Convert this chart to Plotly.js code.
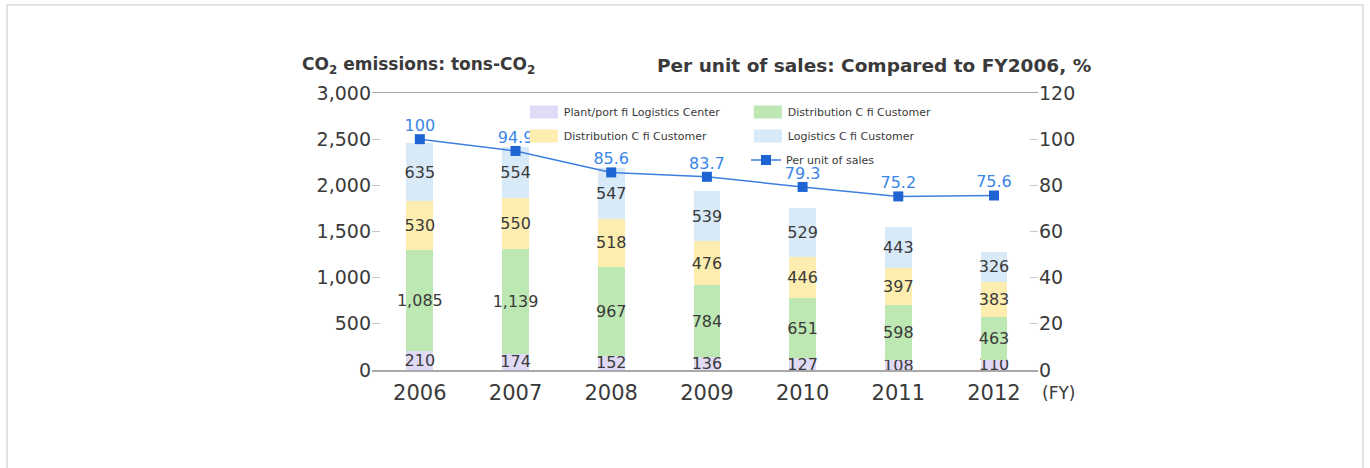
<!DOCTYPE html>
<html>
<head>
<meta charset="utf-8">
<script src="https://cdn.plot.ly/plotly-3.0.1.min.js"></script>
<style>
  html, body { margin: 0; padding: 0; background: #fff; overflow: hidden; }
  #chart { position: absolute; left: 0; top: 0; width: 1370px; height: 468px; }
  #frame { position: absolute; left: 6px; top: 4px; width: 1354px; height: 500px;
           border: 2px solid #e3e3e3; pointer-events: none; }
</style>
</head>
<body>
<div id="chart"></div>
<div id="frame"></div>
<script>
// Fiscal years
const years = ['2006', '2007', '2008', '2009', '2010', '2011', '2012'];

// CO2 emissions by transport leg, tons-CO2
const plantToCenter   = [210, 174, 152, 136, 127, 108, 110];
const distToCustomerG = [1085, 1139, 967, 784, 651, 598, 463];
const distToCustomerY = [530, 550, 518, 476, 446, 397, 383];
const logisticsToCust = [635, 554, 547, 539, 529, 443, 326];

// Emissions per unit of sales, FY2006 = 100
const perUnitSales = [100, 94.9, 85.6, 83.7, 79.3, 75.2, 75.6];

// Axis ticks
const leftTicks  = [0, 500, 1000, 1500, 2000, 2500, 3000];
const rightTicks = [0, 20, 40, 60, 80, 100, 120];

const FONT = 'DejaVu Sans, sans-serif';
const TXT = '#3a3a3a';

function barTrace(name, values, color, legend) {
  return {
    type: 'bar', name: name, x: years, y: values,
    marker: { color: color },
    width: 0.28,
    texttemplate: '%{y:,}',
    textposition: 'inside',
    insidetextanchor: 'middle',
    constraintext: 'none',
    textangle: 0,
    textfont: { family: FONT, size: 16, color: TXT },
    cliponaxis: false,
    hoverinfo: 'skip',
    legend: legend
  };
}

const traces = [
  barTrace('Plant/port \uFB01 Logistics Center', plantToCenter, '#e1daf6', 'legend'),
  barTrace('Distribution C \uFB01 Customer', distToCustomerG, '#bee8b3', 'legend'),
  barTrace('Distribution C \uFB01 Customer', distToCustomerY, '#fdeeb0', 'legend2'),
  barTrace('Logistics C \uFB01 Customer', logisticsToCust, '#d8e9f8', 'legend2'),
  {
    type: 'scatter', mode: 'lines+markers', name: 'Per unit of sales',
    x: years, y: perUnitSales, yaxis: 'y2',
    line: { color: '#3d7fe0', width: 1.5 },
    marker: { symbol: 'square', size: 10, color: '#1e64d2' },
    cliponaxis: false,
    hoverinfo: 'skip',
    legend: 'legend3'
  },
  {
    // value labels sitting just above the per-unit markers
    type: 'scatter', mode: 'markers+text', showlegend: false,
    x: years, y: perUnitSales, yaxis: 'y2',
    marker: { size: 5, color: 'rgba(0,0,0,0)' },
    texttemplate: '%{y}',
    textposition: 'top center',
    textfont: { family: FONT, size: 16, color: '#3a86e6' },
    cliponaxis: false,
    hoverinfo: 'skip'
  }
];

const legendBase = {
  orientation: 'h', xanchor: 'left', yanchor: 'middle', x: 0.228,
  traceorder: 'normal',
  bgcolor: 'rgba(0,0,0,0)', borderwidth: 0,
  font: { family: FONT, size: 11, color: TXT },
  entrywidth: 179, itemclick: false, itemdoubleclick: false
};

const layout = {
  width: 1370, height: 468,
  margin: { l: 372, r: 332, t: 93, b: 98 },
  paper_bgcolor: '#fff', plot_bgcolor: '#fff',
  barmode: 'stack',
  font: { family: FONT, color: TXT },
  xaxis: {
    type: 'category', range: [-0.5, 6.46],
    showline: true, mirror: true, linecolor: '#a8a8a8', linewidth: 1.5,
    ticks: '', showgrid: false, zeroline: false,
    ticklabelstandoff: 3,
    tickfont: { family: FONT, size: 21, color: TXT }
  },
  yaxis: {
    range: [0, 3000], tickvals: leftTicks, tickformat: ',d',
    ticks: 'inside', ticklen: 8, tickcolor: '#c8c8c8', tickwidth: 1,
    showgrid: false, zeroline: false, showline: false,
    tickfont: { family: FONT, size: 19, color: TXT }
  },
  yaxis2: {
    overlaying: 'y', side: 'right', range: [0, 120], tickvals: rightTicks,
    ticks: 'inside', ticklen: 8, tickcolor: '#c8c8c8', tickwidth: 1,
    showgrid: false, zeroline: false, showline: false,
    tickfont: { family: FONT, size: 19, color: TXT }
  },
  showlegend: true,
  legend:  Object.assign({}, legendBase, { y: 0.931 }),
  legend2: Object.assign({}, legendBase, { y: 0.845 }),
  legend3: Object.assign({}, legendBase, { y: 0.758, x: 0.5616 }),
  annotations: [
    { xref: 'paper', yref: 'paper', x: -0.108, y: 1.10, xanchor: 'left', yanchor: 'middle',
      showarrow: false, text: '<b>CO<sub>2</sub> emissions: tons-CO<sub>2</sub></b>',
      font: { family: FONT, size: 17, color: TXT } },
    { xref: 'paper', yref: 'paper', x: 1.083, y: 1.10, xanchor: 'right', yanchor: 'middle',
      showarrow: false, text: '<b>Per unit of sales: Compared to FY2006, %</b>',
      font: { family: FONT, size: 18.5, color: TXT } },
    { xref: 'paper', yref: 'paper', x: 1.0315, y: -0.083, xanchor: 'center', yanchor: 'middle',
      showarrow: false, text: '(FY)',
      font: { family: FONT, size: 17, color: TXT } }
  ]
};

Plotly.newPlot('chart', traces, layout, { staticPlot: true }).then(function (gd) {
  // widen the square bar swatches in the legends
  gd.querySelectorAll('.legendpoints path').forEach(function (p) {
    const d = (p.getAttribute('d') || '').replace(/\s/g, '');
    if (d === 'M6,6H-6V-6H6Z') p.setAttribute('d', 'M14,6.5H-14V-6.5H14Z');
  });
});
</script>
</body>
</html>
